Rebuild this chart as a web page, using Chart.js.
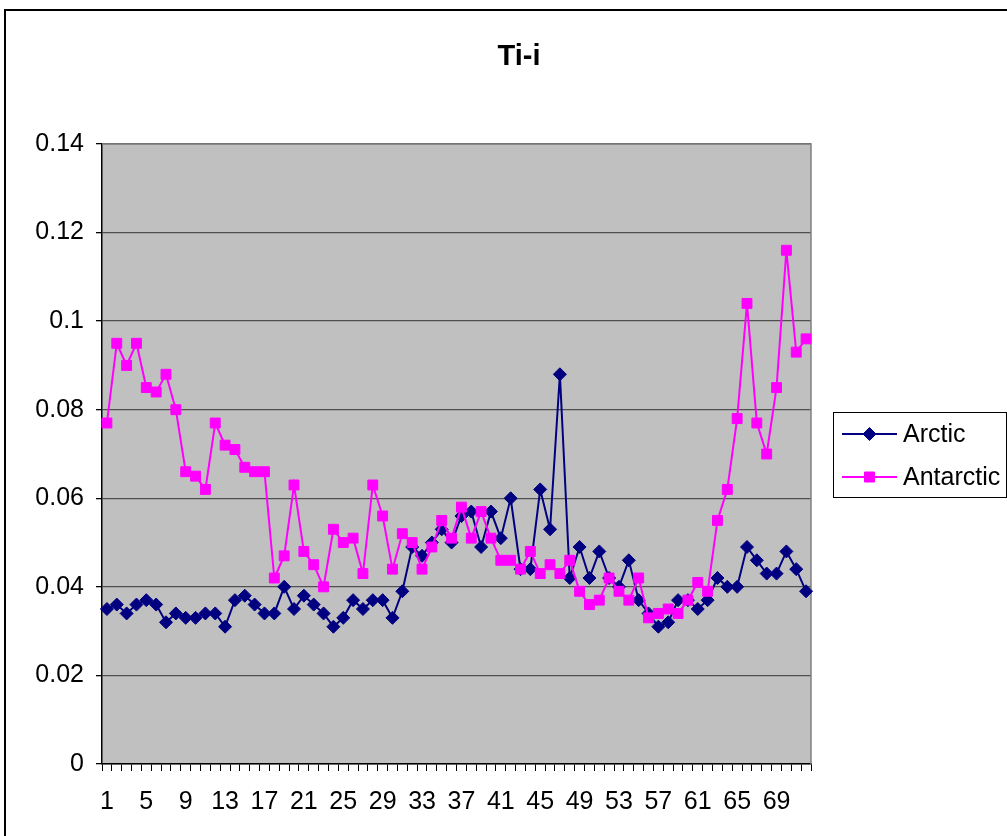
<!DOCTYPE html>
<html><head><meta charset="utf-8">
<script src="https://cdn.jsdelivr.net/npm/chart.js@4.4.0/dist/chart.umd.min.js"></script>
<style>html,body{margin:0;padding:0;background:#fff;overflow:hidden}#wrap{position:relative;width:1007px;height:836px}</style>
</head><body><div id="wrap"><canvas id="c" width="1007" height="836"></canvas></div>
<script>
const categories = ['1','2','3','4','5','6','7','8','9','10','11','12','13','14','15','16','17','18','19','20','21','22','23','24','25','26','27','28','29','30','31','32','33','34','35','36','37','38','39','40','41','42','43','44','45','46','47','48','49','50','51','52','53','54','55','56','57','58','59','60','61','62','63','64','65','66','67','68','69','70','71','72'];
const arctic = [0.035,0.036,0.034,0.036,0.037,0.036,0.032,0.034,0.033,0.033,0.034,0.034,0.031,0.037,0.038,0.036,0.034,0.034,0.040,0.035,0.038,0.036,0.034,0.031,0.033,0.037,0.035,0.037,0.037,0.033,0.039,0.049,0.047,0.050,0.053,0.050,0.056,0.057,0.049,0.057,0.051,0.060,0.044,0.044,0.062,0.053,0.088,0.042,0.049,0.042,0.048,0.042,0.040,0.046,0.037,0.034,0.031,0.032,0.037,0.037,0.035,0.037,0.042,0.040,0.040,0.049,0.046,0.043,0.043,0.048,0.044,0.039];
const antarctic = [0.077,0.095,0.090,0.095,0.085,0.084,0.088,0.080,0.066,0.065,0.062,0.077,0.072,0.071,0.067,0.066,0.066,0.042,0.047,0.063,0.048,0.045,0.040,0.053,0.050,0.051,0.043,0.063,0.056,0.044,0.052,0.050,0.044,0.049,0.055,0.051,0.058,0.051,0.057,0.051,0.046,0.046,0.044,0.048,0.043,0.045,0.043,0.046,0.039,0.036,0.037,0.042,0.039,0.037,0.042,0.033,0.034,0.035,0.034,0.037,0.041,0.039,0.055,0.062,0.078,0.104,0.077,0.070,0.085,0.116,0.093,0.096];
const yTickLabels = ['0','0.02','0.04','0.06','0.08','0.1','0.12','0.14'];
const seriesNames = ['Arctic','Antarctic'];
const chartTitle = 'Ti-i';

const FONT = "'Liberation Sans', Arial, sans-serif";
const NAVY = '#000080', MAG = '#FF00FF';

function drawMarker(ctx, style, x, y, color){
  ctx.save();
  ctx.fillStyle = color; ctx.strokeStyle = color; ctx.lineWidth = 1;
  ctx.beginPath();
  if (style === 'rectRot'){
    const r = 6.5;
    ctx.moveTo(x - r, y); ctx.lineTo(x, y - r); ctx.lineTo(x + r, y); ctx.lineTo(x, y + r); ctx.closePath();
  } else {
    const s = 5;
    ctx.rect(x - s, y - s, 2*s, 2*s);
  }
  ctx.fill(); ctx.stroke();
  ctx.restore();
}

const decor = {
  id: 'decor',
  beforeDraw(chart){
    const ctx = chart.ctx, a = chart.chartArea;
    ctx.save();
    ctx.fillStyle = '#fff'; ctx.fillRect(0, 0, chart.width, chart.height);
    ctx.fillStyle = '#C0C0C0'; ctx.fillRect(a.left, a.top, a.right - a.left, a.bottom - a.top);
    ctx.restore();
  },
  beforeDatasetsDraw(chart){
    const ctx = chart.ctx, a = chart.chartArea;
    ctx.save();
    ctx.strokeStyle = '#808080'; ctx.lineWidth = 1.5;
    ctx.beginPath();
    ctx.moveTo(a.left, a.top); ctx.lineTo(a.right, a.top); ctx.lineTo(a.right, a.bottom);
    ctx.stroke();
    ctx.restore();
  },
  afterDraw(chart){
    const ctx = chart.ctx;
    ctx.save();
    ctx.strokeStyle = '#000'; ctx.lineWidth = 2;
    ctx.strokeRect(5, 10, 1200, 1000);
    ctx.fillStyle = '#000';
    ctx.font = 'bold 29px ' + FONT;
    ctx.textAlign = 'center'; ctx.textBaseline = 'middle';
    ctx.fillText(chartTitle, 519, 57);
    ctx.fillStyle = '#fff';
    ctx.fillRect(833, 412, 174, 85);
    ctx.strokeStyle = '#000'; ctx.lineWidth = 1;
    ctx.strokeRect(833.5, 412.5, 173, 85);
    const ds = chart.data.datasets;
    const rows = [{y: 434, i: 0}, {y: 477, i: 1}];
    rows.forEach(r => {
      const d = ds[r.i];
      ctx.strokeStyle = d.borderColor; ctx.lineWidth = 2;
      ctx.beginPath(); ctx.moveTo(842, r.y); ctx.lineTo(897, r.y); ctx.stroke();
      drawMarker(ctx, d.pointStyle, 869.5, r.y, d.borderColor);
      ctx.fillStyle = '#000';
      ctx.font = '25px ' + FONT;
      ctx.textAlign = 'left'; ctx.textBaseline = 'middle';
      ctx.fillText(d.label, 903, r.y + 1);
    });
    ctx.restore();
  }
};

new Chart(document.getElementById('c'), {
  type: 'line',
  data: {
    labels: categories,
    datasets: [
      { label: seriesNames[0], data: arctic, borderColor: NAVY, backgroundColor: NAVY,
        borderWidth: 2, pointStyle: 'rectRot', pointRadius: 6.5, pointBorderWidth: 1,
        pointBackgroundColor: NAVY, pointBorderColor: NAVY, tension: 0, order: 1 },
      { label: seriesNames[1], data: antarctic, borderColor: MAG, backgroundColor: MAG,
        borderWidth: 2, pointStyle: 'rect', pointRadius: 7, pointBorderWidth: 1,
        pointBackgroundColor: MAG, pointBorderColor: MAG, tension: 0, order: 0 }
    ]
  },
  options: {
    responsive: false,
    animation: false,
    devicePixelRatio: 1,
    layout: { padding: { left: 2, top: 144, right: 196, bottom: 12 } },
    plugins: { legend: { display: false }, title: { display: false }, tooltip: { enabled: false } },
    scales: {
      x: {
        type: 'category',
        offset: true,
        afterFit(s){ s.height = 60; },
        grid: { display: true, drawOnChartArea: false, drawTicks: true, tickLength: 7, tickColor: '#000', offset: true, tickWidth: 1 },
        border: { display: true, color: '#000', width: 1.5 },
        ticks: { autoSkip: false, maxRotation: 0, minRotation: 0, padding: 16, color: '#000',
          font: { family: FONT, size: 25 },
          callback(v, i){ return i % 4 === 0 ? categories[i] : ''; } }
      },
      y: {
        min: 0, max: 0.14,
        afterFit(s){ s.width = 100; },
        grid: { color: '#505050', lineWidth: 1.3, drawTicks: true, tickLength: 6, tickColor: '#000' },
        border: { display: true, color: '#000', width: 1.5 },
        ticks: { stepSize: 0.02, padding: 12, color: '#000', font: { family: FONT, size: 25 },
          callback(v, i){ return yTickLabels[i]; } }
      }
    }
  },
  plugins: [decor]
});
</script>
</body></html>
